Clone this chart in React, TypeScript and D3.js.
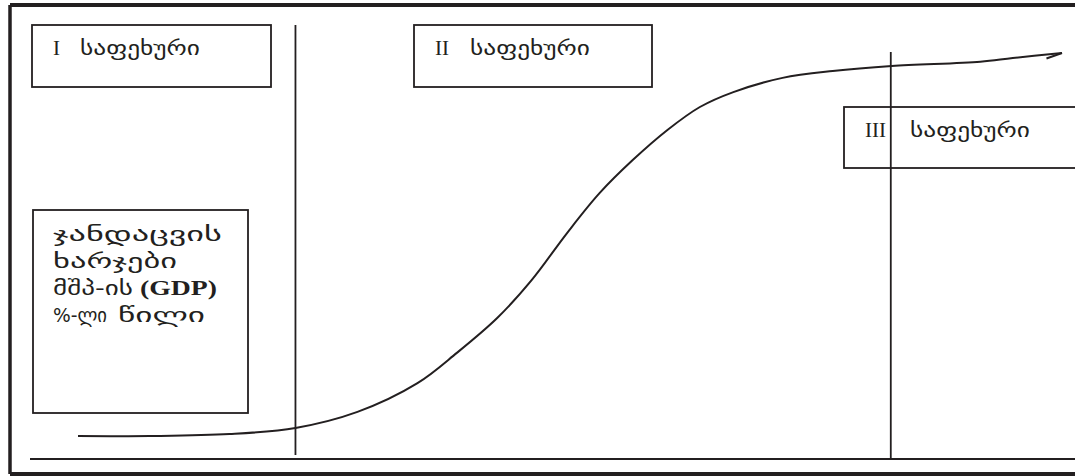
import React from "react";
import * as d3 from "d3";

// Curve data: time (0-100) vs. health spending share of GDP (0-100, relative)
const timeValues = [0, 7.3, 15.4, 22.1, 28.4, 34.5, 38.5, 42.6, 46.1, 49.7, 53.0, 56.4, 59.9, 63.2, 66.6, 71.6, 76.7, 82.7, 91.7, 95.0, 100];
const spendValues = [0, 0, 0.5, 2.1, 6.3, 13.8, 21.7, 30.8, 40.7, 53.0, 63.4, 72.1, 79.9, 85.9, 89.8, 93.5, 95.3, 96.6, 97.7, 98.7, 100];

// Stage boundaries (in time units)
const stageBounds = [22.1, 82.6];

const stageLabels = ["I", "II", "III"];
const stageWord = "საფეხური";
const axisWords = [["ჯანდაცვის"], ["ხარჯები"], ["მშპ-ის", "(GDP)"], ["%-ლი", "წილი"]];

const W = 1075;
const H = 476;
const SERIF = "'Liberation Serif', 'DejaVu Serif', serif";
const GEO = "'DejaVu Sans', 'Noto Sans', sans-serif";

export default function App() {
  const x = d3.scaleLinear().domain([0, 100]).range([78, 1062]);
  const y = d3.scaleLinear().domain([0, 100]).range([436, 53]);

  const pts: [number, number][] = timeValues.map((t, i) => [t, spendValues[i]]);
  const line = d3
    .line<[number, number]>()
    .x((d) => x(d[0]))
    .y((d) => y(d[1]))
    .curve(d3.curveCatmullRom.alpha(0.5));

  const stroke = "#231f20";

  const boxes = [
    { x: 32, y: 25, w: 239, h: 62, tx: 53, gx: 80 },
    { x: 414, y: 25, w: 238, h: 62, tx: 435, gx: 470 },
    { x: 844, y: 107, w: 240, h: 61, tx: 865, gx: 910 },
  ];

  // word layout in the axis label box: [x, width]
  const wordPos = [
    [[53, 169]],
    [[53, 124]],
    [[53, 80], [140, 77]],
    [[53, 54], [118, 87]],
  ];

  return (
    <svg width={W} height={H} style={{ position: "absolute", left: 0, top: 0, background: "#fff" }}>
      <defs>
        <marker id="hook" markerUnits="userSpaceOnUse" viewBox="-20 -10 24 20" refX={0} refY={0} markerWidth={24} markerHeight={20} orient="auto">
          <path d="M0,0 L-16,4" stroke={stroke} strokeWidth={2} fill="none" />
        </marker>
      </defs>
      {/* outer frame */}
      <line x1={10} y1={5} x2={W + 5} y2={5} stroke={stroke} strokeWidth={4} />
      <line x1={10} y1={5} x2={10} y2={474} stroke={stroke} strokeWidth={3.5} />
      <line x1={10} y1={474} x2={W + 5} y2={474} stroke={stroke} strokeWidth={4} />

      {/* baseline */}
      <line x1={30} y1={459} x2={W + 5} y2={459} stroke={stroke} strokeWidth={1.8} />

      {/* stage dividers */}
      <line x1={x(stageBounds[0])} y1={25} x2={x(stageBounds[0])} y2={455} stroke={stroke} strokeWidth={1.8} />
      <line x1={x(stageBounds[1])} y1={52} x2={x(stageBounds[1])} y2={459} stroke={stroke} strokeWidth={1.8} />

      {/* curve */}
      <path d={line(pts) || ""} fill="none" stroke={stroke} strokeWidth={2} markerEnd="url(#hook)" />

      {/* stage boxes */}
      {boxes.map((b, i) => (
        <g key={i}>
          <rect x={b.x} y={b.y} width={b.w} height={b.h} fill="none" stroke={stroke} strokeWidth={1.8} />
          <text x={b.tx} y={b.y + 30} fontFamily={SERIF} fontSize={21} fill={stroke}>
            {stageLabels[i]}
          </text>
          <text x={b.gx} y={b.y + 30} fontFamily={GEO} fontSize={19} fill={stroke} textLength={120} lengthAdjust="spacingAndGlyphs">
            {stageWord}
          </text>
        </g>
      ))}

      {/* y-axis label box */}
      <rect x={33} y={210} width={215} height={203} fill="none" stroke={stroke} strokeWidth={1.8} />
      {axisWords.map((words, i) =>
        words.map((w, j) => {
          const [wx, ww] = wordPos[i][j];
          const bold = w === "(GDP)";
          return (
            <text
              key={`${i}-${j}`}
              x={wx}
              y={241 + i * 27}
              fontFamily={bold ? SERIF : GEO}
              fontWeight={bold ? "bold" : "normal"}
              fontSize={bold ? 22 : 20}
              fill={stroke}
              textLength={ww}
              lengthAdjust="spacingAndGlyphs"
            >
              {w}
            </text>
          );
        })
      )}
    </svg>
  );
}
